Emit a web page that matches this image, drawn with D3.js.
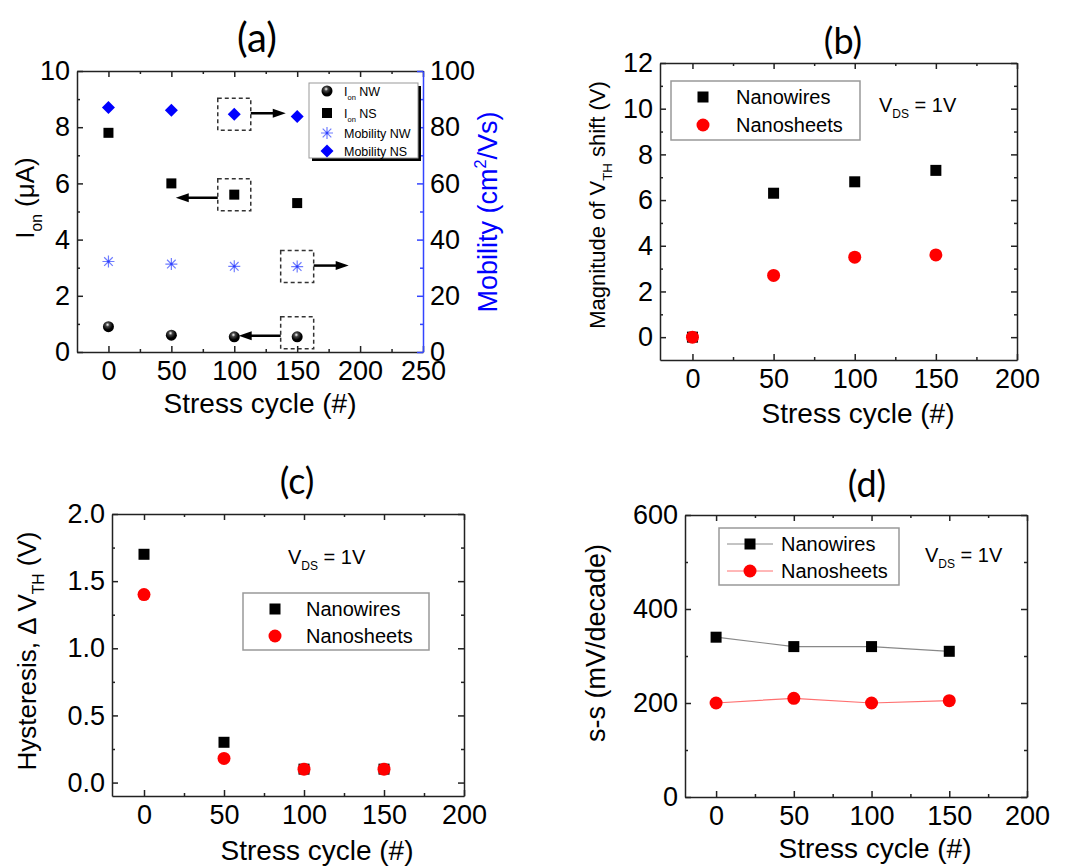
<!DOCTYPE html>
<html>
<head>
<meta charset="utf-8">
<script src="https://cdn.jsdelivr.net/npm/d3@7"></script>
<style>
  body { margin: 0; background: #fff; }
  svg text { font-family: "Liberation Sans", Arial, sans-serif; fill: #000; }
  svg text.title { font-family: Lato, "Open Sans", sans-serif; }
</style>
</head>
<body>
<svg width="1067" height="868"></svg>
<script>
const cycles = [0, 50, 100, 150]

// (a) on-current and mobility
const ionNW = [0.9, 0.6, 0.54, 0.54]
const ionNS = [7.8, 6.0, 5.6, 5.3]
const mobilityNW = [32.2, 31.3, 30.5, 30.4]
const mobilityNS = [87, 86, 84.6, 83.8]

// (b) magnitude of Vth shift
const vthShiftNW = [0, 6.3, 6.8, 7.3]
const vthShiftNS = [0, 2.7, 3.5, 3.6]

// (c) hysteresis
const hysteresisNW = [1.7, 0.3, 0.1, 0.1]
const hysteresisNS = [1.4, 0.18, 0.1, 0.1]

// (d) subthreshold swing
const swingNW = [340, 320, 320, 310]
const swingNS = [200, 210, 200, 205]

// tick values
const xTicksA = [0, 50, 100, 150, 200, 250]
const xMinorA = [25, 75, 125, 175, 225]
const xTicks = [0, 50, 100, 150, 200]
const xMinor = [25, 75, 125, 175]
const yTicksA = [0, 2, 4, 6, 8, 10]
const yMinorA = [1, 3, 5, 7, 9]
const y2TicksA = [0, 20, 40, 60, 80, 100]
const y2MinorA = [10, 30, 50, 70, 90]
const yTicksB = [0, 2, 4, 6, 8, 10, 12]
const yMinorB = [1, 3, 5, 7, 9, 11]
const yTicksC = [0, 0.5, 1.0, 1.5, 2.0]
const yMinorC = [0.25, 0.75, 1.25, 1.75]
const yTicksD = [0, 200, 400, 600]
const yMinorD = [100, 300, 500]

const RED = "#ff0000", BLUE = "#0000ff", LIGHTBLUE = "#6f7dff"

const svg = d3.select("svg")
const defs = svg.append("defs")
const grad = defs.append("radialGradient").attr("id", "ball")
  .attr("cx", "42%").attr("cy", "32%").attr("r", "65%")
grad.append("stop").attr("offset", "0%").attr("stop-color", "#fff")
grad.append("stop").attr("offset", "28%").attr("stop-color", "#444")
grad.append("stop").attr("offset", "70%").attr("stop-color", "#000")

const zip = (vals) => cycles.map((c, i) => ({ c, v: vals[i] }))

function marker(sel, type, color) {
  if (type === "square") {
    sel.append("rect").attr("x", -5.5).attr("y", -5.5).attr("width", 11).attr("height", 11).attr("fill", color)
  } else if (type === "smallsquare") {
    sel.append("rect").attr("x", -5).attr("y", -5).attr("width", 10).attr("height", 10).attr("fill", color)
  } else if (type === "circle") {
    sel.append("circle").attr("r", 6.5).attr("fill", color)
  } else if (type === "sphere") {
    sel.append("circle").attr("r", 5.5).attr("fill", "url(#ball)")
  } else if (type === "diamond") {
    sel.append("path").attr("d", "M0,-6.5L6.5,0L0,6.5L-6.5,0Z").attr("fill", color)
  } else if (type === "asterisk") {
    sel.append("path").attr("d", "M-6,0H6M0,-6V6M-4.3,-4.3L4.3,4.3M-4.3,4.3L4.3,-4.3")
      .attr("stroke", color).attr("stroke-width", 1.2)
    sel.append("circle").attr("r", 1.3).attr("fill", "#3040ff")
  }
}

function points(g, x, y, vals, type, color) {
  g.append("g").selectAll("g").data(zip(vals)).enter().append("g")
    .attr("transform", (d) => `translate(${x(d.c)},${y(d.v)})`)
    .call((sel) => marker(sel, type, color))
}

// text with sub/superscript parts: [[text, kind]]
function rich(g, parts, size) {
  const t = g.append("text").attr("font-size", size)
  let shift = 0
  parts.forEach(([s, kind]) => {
    const off = kind === "sub" ? 0.32 * size : kind === "sup" ? -0.42 * size : 0
    t.append("tspan").attr("dy", off - shift).attr("font-size", kind ? size * 0.6 : size).text(s)
    shift = off
  })
  return t
}

function axisStyle(sel, color) {
  sel.attr("color", color)
  sel.selectAll("path, line").attr("stroke-width", 1.5)
  sel.selectAll("text").attr("font-size", 27).attr("font-family", "Liberation Sans, Arial, sans-serif").attr("fill", "#000")
}

function frame(g, x, y, o) {
  const [x0, x1] = x.range(), [y0, y1] = y.range()
  const put = (axis, tr, color = "#222") => {
    const a = g.append("g").attr("transform", tr).call(axis)
    axisStyle(a, color)
    return a
  }
  const minor = (axis, tr, color) => put(axis.tickSize(-3).tickFormat(""), tr, color).select(".domain").remove()

  put(d3.axisBottom(x).tickValues(o.xTicks).tickSize(-6).tickSizeOuter(0).tickPadding(9).tickFormat(d3.format("d")), `translate(0,${y0})`)
  minor(d3.axisBottom(x).tickValues(o.xMinor), `translate(0,${y0})`)
  put(d3.axisTop(x).tickValues(o.xTicks).tickSize(-6).tickSizeOuter(0).tickFormat(""), `translate(0,${y1})`)
  minor(d3.axisTop(x).tickValues(o.xMinor), `translate(0,${y1})`)

  put(d3.axisLeft(y).tickValues(o.yTicks).tickSize(-6).tickSizeOuter(0).tickPadding(7).tickFormat(o.yFmt), `translate(${x0},0)`)
  minor(d3.axisLeft(y).tickValues(o.yMinor), `translate(${x0},0)`)

  const y2 = o.y2 || y
  const rc = o.y2 ? "#3344ff" : "#222"
  put(d3.axisRight(y2).tickValues(o.y2Ticks || o.yTicks).tickSize(-6).tickSizeOuter(0).tickPadding(7)
    .tickFormat(o.y2 ? d3.format("d") : ""), `translate(${x1},0)`, rc)
  minor(d3.axisRight(y2).tickValues(o.y2Minor || o.yMinor), `translate(${x1},0)`, rc)
}

function title(label, cx, base, size) {
  svg.append("text").attr("class", "title").attr("x", cx).attr("y", base)
    .attr("text-anchor", "middle").attr("font-size", size).text(label)
}

function xTitle(cx, base) {
  svg.append("text").attr("x", cx).attr("y", base).attr("text-anchor", "middle")
    .attr("font-size", 28).text("Stress cycle (#)")
}

function yTitle(parts, bx, cy, size, color = "#000") {
  const g = svg.append("g").attr("transform", `translate(${bx},${cy}) rotate(-90)`)
  rich(g, parts, size).attr("text-anchor", "middle").attr("fill", color)
    .selectAll("tspan").attr("fill", color)
}

function vds(x0, base) {
  const g = svg.append("g").attr("transform", `translate(${x0},${base})`)
  rich(g, [["V"], ["DS", "sub"], [" = 1V"]], 20)
}

function legend(box, rows, withLine) {
  const g = svg.append("g")
  g.append("rect").attr("x", box.x).attr("y", box.y).attr("width", box.w).attr("height", box.h)
    .attr("fill", "#fff").attr("stroke", "#999").attr("stroke-width", 1.5)
  rows.forEach((r, i) => {
    const cy = box.y + box.first + i * box.step
    if (withLine) {
      g.append("line").attr("x1", box.sx - 23).attr("x2", box.sx + 23).attr("y1", cy).attr("y2", cy)
        .attr("stroke", r.line).attr("stroke-width", 1)
    }
    g.append("g").attr("transform", `translate(${box.sx},${cy})`).call((s) => marker(s, r.type, r.color))
    g.append("text").attr("x", box.tx).attr("y", cy + 7).attr("font-size", 20).text(r.name)
  })
}

// ---------- (a) ----------
{
  const x = d3.scaleLinear().domain([-25, 250]).range([77, 423])
  const y = d3.scaleLinear().domain([0, 10]).range([352, 71])
  const y2 = d3.scaleLinear().domain([0, 100]).range([352, 71])
  const g = svg.append("g")
  frame(g, x, y, { xTicks: xTicksA, xMinor: xMinorA, yTicks: yTicksA, yMinor: yMinorA, yFmt: d3.format("d"),
    y2, y2Ticks: y2TicksA, y2Minor: y2MinorA })

  points(g, x, y2, mobilityNS, "diamond", BLUE)
  points(g, x, y, ionNS, "smallsquare", "#000")
  points(g, x, y2, mobilityNW, "asterisk", LIGHTBLUE)
  points(g, x, y, ionNW, "sphere", "#000")

  // dashed boxes with arrows pointing to the axis each series belongs to
  const notes = [
    { c: 100, v: y2(mobilityNS[2]), dir: 1 },
    { c: 100, v: y(ionNS[2]), dir: -1 },
    { c: 150, v: y2(mobilityNW[3]), dir: 1 },
    { c: 150, v: y(ionNW[3]) - 4, dir: -1 },
  ]
  notes.forEach((n) => {
    const cx = x(n.c), cy = n.v
    g.append("rect").attr("x", cx - 16.5).attr("y", cy - 16).attr("width", 33).attr("height", 32)
      .attr("fill", "none").attr("stroke", "#333").attr("stroke-width", 1.5).attr("stroke-dasharray", "4,3")
    const sx = cx + n.dir * 16.5, ex = sx + n.dir * (n.dir > 0 ? 35 : 42)
    const ay = n.dir > 0 ? cy - 1 : cy + 3
    g.append("line").attr("x1", sx).attr("x2", ex - n.dir * 10).attr("y1", ay).attr("y2", ay)
      .attr("stroke", "#000").attr("stroke-width", 2.5)
    g.append("path").attr("d", `M${ex},${ay}L${ex - n.dir * 13},${ay - 4.5}L${ex - n.dir * 13},${ay + 4.5}Z`)
      .attr("fill", "#000")
  })

  // legend with shadow
  const lg = svg.append("g")
  lg.append("rect").attr("x", 312).attr("y", 86).attr("width", 109).attr("height", 75).attr("fill", "#000")
  lg.append("rect").attr("x", 309).attr("y", 83).attr("width", 109).attr("height", 75)
    .attr("fill", "#fff").attr("stroke", "#999").attr("stroke-width", 1)
  const rows = [
    { parts: [["I"], ["on", "sub"], [" NW"]], type: "sphere", color: "#000", cy: 91 },
    { parts: [["I"], ["on", "sub"], [" NS"]], type: "smallsquare", color: "#000", cy: 113 },
    { parts: [["Mobility NW"]], type: "asterisk", color: LIGHTBLUE, cy: 133 },
    { parts: [["Mobility NS"]], type: "diamond", color: BLUE, cy: 151 },
  ]
  rows.forEach((r) => {
    lg.append("g").attr("transform", `translate(327,${r.cy})`).call((s) => marker(s, r.type, r.color))
    const t = lg.append("g").attr("transform", `translate(344,${r.cy + 4.5})`)
    rich(t, r.parts, 12.5)
  })

  title("(a)", 257, 52, 40)
  xTitle(260, 413)
  yTitle([["I"], ["on", "sub"], [" (\u03bcA)"]], 34, 198, 26)
  yTitle([["Mobility (cm"], ["2", "sup"], ["/Vs)"]], 497, 212, 27, BLUE)
}

// ---------- (b) ----------
{
  const x = d3.scaleLinear().domain([-20, 200]).range([660, 1017])
  const y = d3.scaleLinear().domain([-1, 12]).range([360, 63])
  const g = svg.append("g")
  frame(g, x, y, { xTicks, xMinor, yTicks: yTicksB, yMinor: yMinorB, yFmt: d3.format("d") })
  points(g, x, y, vthShiftNW, "square", "#000")
  points(g, x, y, vthShiftNS, "circle", RED)
  legend({ x: 671, y: 81, w: 189, h: 59, first: 16, step: 28, sx: 703, tx: 736 },
    [{ name: "Nanowires", type: "square", color: "#000" }, { name: "Nanosheets", type: "circle", color: RED }])
  vds(879, 112)
  title("(b)", 843, 54, 36)
  xTitle(858, 423)
  yTitle([["Magnitude of V"], ["TH", "sub"], [" shift (V)"]], 605, 205, 22)
}

// ---------- (c) ----------
{
  const x = d3.scaleLinear().domain([-20, 200]).range([112, 464])
  const y = d3.scaleLinear().domain([-0.1, 2.0]).range([796, 514])
  const g = svg.append("g")
  frame(g, x, y, { xTicks, xMinor, yTicks: yTicksC, yMinor: yMinorC, yFmt: d3.format(".1f") })
  points(g, x, y, hysteresisNW, "square", "#000")
  points(g, x, y, hysteresisNS, "circle", RED)
  legend({ x: 243, y: 593, w: 186, h: 57, first: 16, step: 27, sx: 275, tx: 306 },
    [{ name: "Nanowires", type: "square", color: "#000" }, { name: "Nanosheets", type: "circle", color: RED }])
  vds(288, 564)
  title("(c)", 297, 494, 36)
  xTitle(317, 860)
  yTitle([["Hysteresis, \u0394 V"], ["TH", "sub"], [" (V)"]], 36, 651, 26)
}

// ---------- (d) ----------
{
  const x = d3.scaleLinear().domain([-20, 200]).range([685, 1027])
  const y = d3.scaleLinear().domain([0, 600]).range([797, 515])
  const g = svg.append("g")
  frame(g, x, y, { xTicks, xMinor, yTicks: yTicksD, yMinor: yMinorD, yFmt: d3.format("d") })
  const line = d3.line().x((d) => x(d.c)).y((d) => y(d.v))
  g.append("path").datum(zip(swingNW)).attr("d", line).attr("fill", "none").attr("stroke", "#888").attr("stroke-width", 1.2)
  g.append("path").datum(zip(swingNS)).attr("d", line).attr("fill", "none").attr("stroke", "#ff7070").attr("stroke-width", 1.2)
  points(g, x, y, swingNW, "square", "#000")
  points(g, x, y, swingNS, "circle", RED)
  legend({ x: 719, y: 528, w: 180, h: 57, first: 16, step: 27, sx: 750, tx: 781 },
    [{ name: "Nanowires", type: "square", color: "#000", line: "#888" },
     { name: "Nanosheets", type: "circle", color: RED, line: "#ff7070" }], true)
  vds(925, 562)
  title("(d)", 867, 497, 36)
  xTitle(875, 858)
  yTitle([["s-s (mV/decade)"]], 605, 643, 27)
}
</script>
</body>
</html>
